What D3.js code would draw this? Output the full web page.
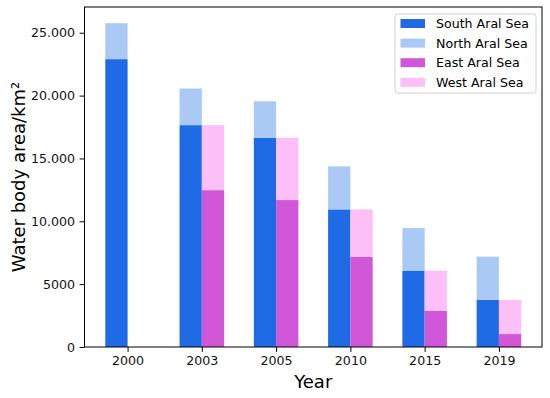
<!DOCTYPE html>
<html>
<head>
<meta charset="utf-8">
<script src="https://cdn.jsdelivr.net/npm/d3@7"></script>
<style>
  html, body { margin: 0; padding: 0; background: #fff; }
  svg { display: block; font-family: "DejaVu Sans", sans-serif; }
</style>
</head>
<body>
<svg id="chart" width="550" height="398"></svg>
<script>
// ============= Data =============
const years = ["2000", "2003", "2005", "2010", "2015", "2019"];
const southArea = [22900, 17650, 16650, 10950, 6080, 3750];
const northArea = [2860, 2910, 2900, 3420, 3390, 3440];
const eastArea = [0, 12480, 11690, 7160, 2880, 1030];
const westArea = [0, 5170, 4960, 3790, 3200, 2720];
const yTickValues = [0, 5000, 10000, 15000, 20000, 25000];
const yTickLabels = ["0", "5000", "10.000", "15.000", "20.000", "25.000"];

const seriesNames = ["South Aral Sea", "North Aral Sea", "East Aral Sea", "West Aral Sea"];
const seriesColors = ["#1f6be5", "#abc9f5", "#d156d8", "#fdbff8"];

// ============= Layout =============
const MARGIN = { LEFT: 84.5, RIGHT: 8, TOP: 7, BOTTOM: 51 };
const WIDTH = 550, HEIGHT = 398;
const BAR_W = 0.3;
const TICK_FONT = 12.6;
const LABEL_FONT = 18;

const svg = d3.select("#chart");
const plotW = WIDTH - MARGIN.LEFT - MARGIN.RIGHT;
const plotH = HEIGHT - MARGIN.TOP - MARGIN.BOTTOM;
const g = svg.append("g").attr("transform", `translate(${MARGIN.LEFT},${MARGIN.TOP})`);

const idx = years.map((_, i) => i);
const totals = idx.map((i) => southArea[i] + northArea[i]);
const yMax = d3.max(totals) * 1.05;
const pad = (years.length - 1 + 2 * BAR_W) * 0.05;

const xScale = d3.scaleLinear().domain([-BAR_W - pad, years.length - 1 + BAR_W + pad]).range([0, plotW]);
const yScale = d3.scaleLinear().domain([0, yMax]).range([plotH, 0]);

// ============= Bars =============
// left bar: South + North stacked, right bar: East + West stacked
const stacks = [
  { offset: -BAR_W, parts: [southArea, northArea], colors: [seriesColors[0], seriesColors[1]] },
  { offset: 0, parts: [eastArea, westArea], colors: [seriesColors[2], seriesColors[3]] },
];

stacks.forEach((stack) => {
  idx.forEach((i) => {
    let base = 0;
    stack.parts.forEach((arr, k) => {
      const v = arr[i];
      if (v > 0) {
        g.append("rect")
          .attr("x", xScale(i + stack.offset))
          .attr("width", xScale(i + stack.offset + BAR_W) - xScale(i + stack.offset))
          .attr("y", yScale(base + v))
          .attr("height", yScale(base) - yScale(base + v))
          .attr("fill", stack.colors[k]);
      }
      base += v;
    });
  });
});

// ============= Axes =============
const xAxis = g.append("g")
  .attr("transform", `translate(0,${plotH})`)
  .call(d3.axisBottom(xScale).tickValues(idx).tickFormat((d) => years[d]).tickSizeOuter(0).tickSize(4.9).tickPadding(4.5));

const yAxis = g.append("g")
  .call(d3.axisLeft(yScale).tickValues(yTickValues).tickFormat((d, i) => yTickLabels[i]).tickSizeOuter(0).tickSize(4.9).tickPadding(4.5));

[xAxis, yAxis].forEach((axis) => {
  axis.select(".domain").remove();
  axis.selectAll("line").attr("stroke", "#000").attr("stroke-width", 1);
  axis.selectAll("text").style("font-size", `${TICK_FONT}px`).style("font-family", "DejaVu Sans").attr("fill", "#111");
});

// frame
g.append("rect")
  .attr("width", plotW)
  .attr("height", plotH)
  .attr("fill", "none")
  .attr("stroke", "#000")
  .attr("stroke-width", 1);

// axis labels
svg.append("text")
  .attr("x", MARGIN.LEFT + plotW / 2)
  .attr("y", 388)
  .attr("text-anchor", "middle")
  .style("font-size", `${LABEL_FONT}px`)
  .text("Year");

svg.append("text")
  .attr("transform", `translate(25,${MARGIN.TOP + plotH / 2}) rotate(-90)`)
  .attr("text-anchor", "middle")
  .style("font-size", `${LABEL_FONT}px`)
  .text("Water body area/km²");

// ============= Legend =============
const legend = svg.append("g").attr("transform", "translate(395,14)");
legend.append("rect")
  .attr("width", 141)
  .attr("height", 79)
  .attr("rx", 2.5)
  .attr("fill", "#fff")
  .attr("fill-opacity", 0.8)
  .attr("stroke", "#d0d0d0")
  .attr("stroke-width", 1);

seriesNames.forEach((name, i) => {
  const cy = 9.5 + i * 19.6;
  legend.append("rect")
    .attr("x", 5.5)
    .attr("y", cy - 4.5)
    .attr("width", 24.5)
    .attr("height", 9)
    .attr("fill", seriesColors[i]);
  legend.append("text")
    .attr("x", 41)
    .attr("y", cy + 4.5)
    .style("font-size", `${TICK_FONT}px`)
    .text(name);
});
</script>
</body>
</html>
